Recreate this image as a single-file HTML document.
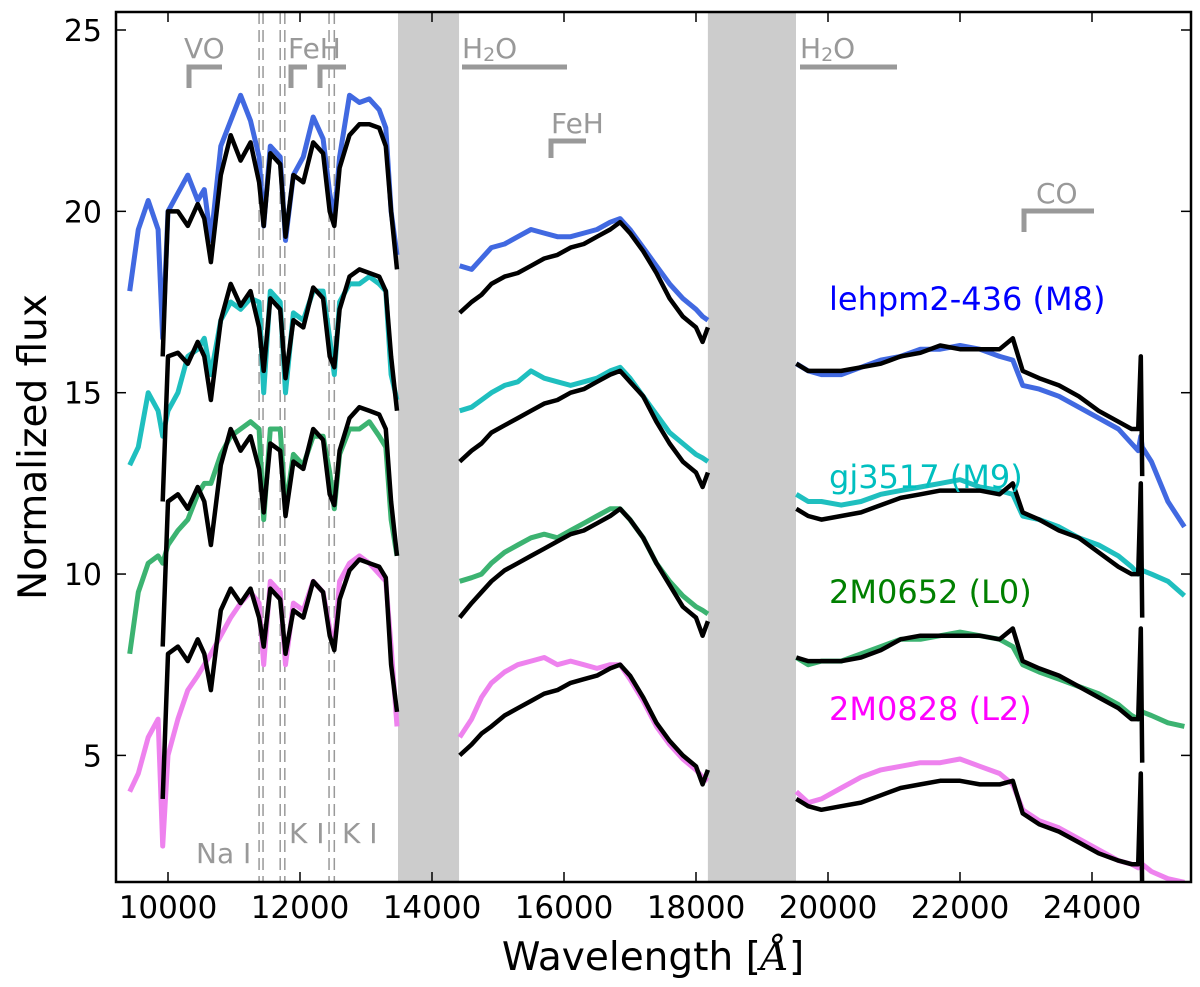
<!DOCTYPE html>
<html><head><meta charset="utf-8"><style>
html,body{margin:0;padding:0;background:#fff;}
svg{display:block;font-family:"DejaVu Sans","Liberation Sans",sans-serif;}
</style></head><body>
<svg id="chart" width="1200" height="987" viewBox="0 0 1200 987" xmlns="http://www.w3.org/2000/svg">
<defs><clipPath id="pc"><rect x="116" y="12" width="1075" height="870"/></clipPath></defs>
<g id="bands"></g><g id="lines"></g><g id="series" clip-path="url(#pc)"></g><g id="annot"></g><g id="axes"></g>
</svg>
<script>
const xTicks=[10000,12000,14000,16000,18000,20000,22000,24000];
const yTicks=[5,10,15,20,25];
const maskedRanges=[[13485,14410],[18180,19515]];
const lineMarks=[11380,11440,11700,11770,12440,12520];
const wlJ=[9420,9550,9700,9850,9920,10000,10150,10300,10450,10550,10650,10800,10950,11100,11250,11380,11450,11550,11700,11780,11900,12050,12200,12350,12450,12520,12600,12750,12900,13050,13200,13300,13380,13470];
const wlH=[14420,14600,14750,14900,15100,15300,15500,15700,15900,16100,16300,16500,16700,16850,17000,17200,17400,17600,17800,18000,18100,18180];
const wlK=[19520,19700,19900,20200,20500,20800,21100,21400,21700,22000,22300,22600,22800,22950,23200,23500,23800,24100,24400,24600,24700,24740,24760,24900,25150,25400];
const m8ObsJ=[17.8,19.5,20.3,19.5,16.5,20,20.5,21,20.3,20.6,19.2,21.8,22.5,23.2,22.5,21.5,19.6,21.8,21.5,19.2,21,21.5,22.6,22,20.5,19.8,21.5,23.2,23,23.1,22.8,22.3,20,18.8];
const m8ModJ=[null,null,null,null,16,20,20,19.6,20.2,19.8,18.6,21,22.1,21.4,21.9,20.8,19.6,21.6,21.3,19.3,21,20.8,21.9,21.6,20,19.6,21.2,22.1,22.4,22.4,22.3,21.8,20,18.4];
const m9ObsJ=[13,13.5,15,14.5,13.8,14.5,15,16,16.2,16.5,15.5,17,17.5,17.3,17.6,17.5,15,17.8,17.5,15,17.2,17,17.8,17.8,16.5,15.5,17.5,18,18,18.2,18,17.8,15.5,14.8];
const m9ModJ=[null,null,null,null,12,16,16.1,15.8,16.4,16,14.8,17,18,17.4,17.8,16.8,15.6,17.6,17.3,15.4,17,16.8,17.9,17.6,16,15.7,17.3,18.2,18.4,18.3,18.2,17.8,16,14.5];
const l0ObsJ=[7.8,9.5,10.3,10.5,10.3,10.8,11.2,11.5,12.2,12.5,12.5,13.3,13.8,14,14.2,14,11.5,14,14,11.8,13.3,13,13.8,13.8,12.8,11.8,13.3,14,14,14.2,13.8,13.5,11.5,10.5];
const l0ModJ=[null,null,null,null,8,12,12.2,11.8,12.4,12,10.8,13,14,13.4,13.8,12.9,11.7,13.6,13.4,11.6,13.1,12.9,14,13.7,12.2,11.9,13.4,14.3,14.6,14.5,14.4,14,12,10.5];
const l2ObsJ=[4,4.5,5.5,6,2.5,5,6,6.8,7.2,7.5,7.8,8.3,8.8,9.2,9.5,9.2,7.5,9.8,9.5,7.5,9.2,9,9.8,9.5,8.5,8,9.8,10.3,10.5,10.3,10,9.8,8,5.8];
const l2ModJ=[null,null,null,null,3.8,7.8,8,7.6,8.2,7.8,6.8,9,9.6,9.2,9.6,8.8,8,9.6,9.3,7.8,9,8.8,9.8,9.5,8.3,7.9,9.3,10.1,10.4,10.3,10.2,9.9,7.5,6.2];
const m8ObsH=[18.5,18.4,18.7,19,19.1,19.3,19.5,19.4,19.3,19.3,19.4,19.5,19.7,19.8,19.5,19,18.5,18,17.6,17.3,17.1,17];
const m8ModH=[17.2,17.5,17.7,18,18.2,18.3,18.5,18.7,18.8,19,19.1,19.3,19.5,19.7,19.4,18.9,18.3,17.6,17.1,16.8,16.4,16.8];
const m9ObsH=[14.5,14.6,14.8,15,15.2,15.3,15.6,15.4,15.3,15.2,15.3,15.4,15.6,15.7,15.4,14.9,14.4,13.9,13.6,13.3,13.2,13.1];
const m9ModH=[13.1,13.4,13.6,13.9,14.1,14.3,14.5,14.7,14.8,15,15.1,15.3,15.5,15.6,15.3,14.9,14.2,13.6,13.1,12.8,12.4,12.8];
const l0ObsH=[9.8,9.9,10,10.3,10.6,10.8,11,11.1,11,11.2,11.4,11.6,11.8,11.8,11.5,11,10.3,9.8,9.4,9.1,9,8.9];
const l0ModH=[8.8,9.2,9.5,9.8,10.1,10.3,10.5,10.7,10.9,11.1,11.2,11.4,11.6,11.8,11.5,11,10.3,9.7,9.1,8.8,8.3,8.7];
const l2ObsH=[5.5,6,6.6,7,7.3,7.5,7.6,7.7,7.5,7.6,7.5,7.4,7.5,7.5,7.1,6.5,5.8,5.3,4.9,4.6,4.4,4.3];
const l2ModH=[5,5.3,5.6,5.8,6.1,6.3,6.5,6.7,6.8,7,7.1,7.2,7.4,7.5,7.2,6.6,5.9,5.4,5,4.7,4.2,4.6];
const m8ObsK=[15.8,15.6,15.5,15.5,15.7,15.9,16,16.2,16.2,16.3,16.2,16,15.9,15.2,15.1,14.9,14.6,14.3,14,13.6,13.4,13.8,13.5,13.1,12,11.3];
const m8ModK=[15.8,15.6,15.6,15.6,15.7,15.8,16,16.1,16.3,16.2,16.2,16.2,16.5,15.6,15.4,15.2,14.9,14.5,14.2,14,14,16,12.7,null,null,null];
const m9ObsK=[12.2,12,12,11.9,12,12.2,12.3,12.4,12.5,12.6,12.4,12.3,12.2,11.6,11.5,11.3,11,10.8,10.5,10.2,10,10.2,10.1,10,9.8,9.4];
const m9ModK=[11.8,11.6,11.5,11.6,11.7,11.9,12.1,12.2,12.3,12.3,12.3,12.2,12.5,11.7,11.5,11.2,11,10.6,10.2,10,10,12.5,8.8,null,null,null];
const l0ObsK=[7.7,7.5,7.6,7.6,7.8,8,8.2,8.2,8.3,8.4,8.3,8.2,8,7.5,7.3,7.1,6.9,6.7,6.4,6.1,6,6.3,6.2,6.1,5.9,5.8];
const l0ModK=[7.7,7.6,7.6,7.6,7.7,7.9,8.2,8.3,8.3,8.3,8.3,8.2,8.5,7.6,7.4,7.2,6.9,6.6,6.3,6,6,8.5,4.8,null,null,null];
const l2ObsK=[4,3.7,3.8,4.1,4.4,4.6,4.7,4.8,4.8,4.9,4.7,4.5,4.2,3.5,3.2,3,2.7,2.4,2.1,2,1.9,2,2,1.8,1.6,1.5];
const l2ModK=[3.8,3.6,3.5,3.6,3.7,3.9,4.1,4.2,4.3,4.3,4.2,4.2,4.3,3.4,3.1,2.9,2.6,2.3,2.1,2,2,4.5,1.2,null,null,null];

const L=116,R=1191,T=12,B=882;
const X0=10000,PX=0.066;
const xs=v=>168+(v-X0)*PX;
const ys=v=>30+(25-v)*36.27;
const NS="http://www.w3.org/2000/svg";
function mk(tag,attrs,parent){const e=document.createElementNS(NS,tag);for(const k in attrs)e.setAttribute(k,attrs[k]);parent.appendChild(e);return e;}
const gB=document.getElementById('bands'),gL=document.getElementById('lines'),gS=document.getElementById('series'),gX=document.getElementById('axes');
maskedRanges.forEach(r=>{const e=mk('rect',{x:xs(r[0]),y:T,width:xs(r[1])-xs(r[0]),height:B-T,fill:'#cccccc'},gB);

});
lineMarks.forEach(w=>{const e=mk('line',{x1:xs(w),x2:xs(w),y1:T,y2:B,stroke:'#999',"stroke-width":1.5,"stroke-dasharray":"12,6"},gL);

});
function draw(wl,vals,color,w,name){
  let d='',pen=false;
  for(let i=0;i<wl.length;i++){const v=vals[i];if(v===null){pen=false;continue;}
    d+=(pen?'L':'M')+xs(wl[i]).toFixed(1)+','+ys(v).toFixed(1);pen=true;}
  const e=mk('path',{d:d,fill:'none',stroke:color,"stroke-width":w,"stroke-linejoin":"round"},gS);
  
  
}
const C={m8:'#4169e1',m9:'#1fbfbf',l0:'#3cb371',l2:'#ee82ee'};
draw(wlJ,m8ObsJ,C.m8,5,'lehpm2-436-j');draw(wlH,m8ObsH,C.m8,5,'lehpm2-436-h');draw(wlK,m8ObsK,C.m8,5,'lehpm2-436-k');
draw(wlJ,m9ObsJ,C.m9,5,'gj3517-j');draw(wlH,m9ObsH,C.m9,5,'gj3517-h');draw(wlK,m9ObsK,C.m9,5,'gj3517-k');
draw(wlJ,l0ObsJ,C.l0,5,'2m0652-j');draw(wlH,l0ObsH,C.l0,5,'2m0652-h');draw(wlK,l0ObsK,C.l0,5,'2m0652-k');
draw(wlJ,l2ObsJ,C.l2,5,'2m0828-j');draw(wlH,l2ObsH,C.l2,5,'2m0828-h');draw(wlK,l2ObsK,C.l2,5,'2m0828-k');
[[m8ModJ,m8ModH,m8ModK],[m9ModJ,m9ModH,m9ModK],[l0ModJ,l0ModH,l0ModK],[l2ModJ,l2ModH,l2ModK]].forEach((s,i)=>{
  draw(wlJ,s[0],'#000',4.5,'model-j-'+i);draw(wlH,s[1],'#000',4.5,'model-h-'+i);draw(wlK,s[2],'#000',4.5,'model-k-'+i);});
const fr=mk('rect',{x:L,y:T,width:R-L,height:B-T,fill:'none',stroke:'#000',"stroke-width":2.5},gX);


xTicks.forEach(v=>{const x=xs(v);
  mk('line',{x1:x,x2:x,y1:B,y2:B-10,stroke:'#000',"stroke-width":1.5},gX);
  mk('line',{x1:x,x2:x,y1:T,y2:T+10,stroke:'#000',"stroke-width":1.5},gX);
  const t=mk('text',{x:x,y:918,"font-size":31,"text-anchor":"middle",fill:'#000'},gX);t.textContent=v;
  
  });
yTicks.forEach(v=>{const y=ys(v);
  mk('line',{x1:L,x2:L+10,y1:y,y2:y,stroke:'#000',"stroke-width":1.5},gX);
  mk('line',{x1:R,x2:R-10,y1:y,y2:y,stroke:'#000',"stroke-width":1.5},gX);
  const t=mk('text',{x:102,y:y+11,"font-size":30,"text-anchor":"end",fill:'#000'},gX);t.textContent=v;
  
  });
</script>
<svg style="position:absolute;left:0;top:0" width="1200" height="987" xmlns="http://www.w3.org/2000/svg">
<g fill="#999" stroke="#999">
<path d="M189,88V67H222M291,88V67H307M320,88V67H346M551,158V141H586M1024,232V211H1094" fill="none" stroke-width="5"/>
<path d="M462,67H567M800,67H897" fill="none" stroke-width="5"/>
<text x="184" y="58" font-size="28" stroke="none">VO</text>
<text x="288" y="58" font-size="28" stroke="none">FeH</text>
<text x="462" y="58" font-size="28" stroke="none">H<tspan font-size="19" dy="3">2</tspan><tspan dy="-3">O</tspan></text>
<text x="800" y="58" font-size="28" stroke="none">H<tspan font-size="19" dy="3">2</tspan><tspan dy="-3">O</tspan></text>
<text x="551" y="133" font-size="28" stroke="none">FeH</text>
<text x="1036" y="203" font-size="28" stroke="none">CO</text>
<text x="196" y="863" font-size="28" stroke="none">Na I</text>
<text x="289" y="843" font-size="28" stroke="none">K I</text>
<text x="342" y="843" font-size="28" stroke="none">K I</text>
</g>
<text x="829" y="310" font-size="32" fill="#0000ff">lehpm2-436 (M8)</text>
<text x="829" y="488" font-size="32" fill="#00bfbf">gj3517 (M9)</text>
<text x="829" y="603" font-size="32" fill="#008000">2M0652 (L0)</text>
<text x="829" y="720" font-size="32" fill="#ff00ff">2M0828 (L2)</text>
<text x="653" y="970" font-size="39" text-anchor="middle">Wavelength [<tspan font-style="italic" font-family="DejaVu Serif, Liberation Serif, serif">Å</tspan>]</text>
<text transform="translate(46,447) rotate(-90)" font-size="39" text-anchor="middle">Normalized flux</text>
</svg>
</body></html>
